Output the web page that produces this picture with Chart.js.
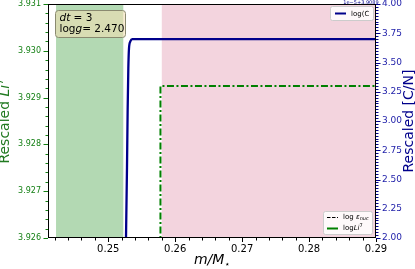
<!DOCTYPE html>
<html>
<head>
<meta charset="utf-8">
<script src="https://cdn.jsdelivr.net/npm/chart.js@4"></script>
<style>
  html, body { margin: 0; padding: 0; background: #fff; }
  #wrap { width: 415px; height: 269px; position: relative; }
</style>
</head>
<body>
<div id="wrap"><canvas id="chart" width="415" height="269"></canvas></div>
<script>
// data
const massCN = [0.2526, 0.2528, 0.2529, 0.2530, 0.2531, 0.2533, 0.2536, 0.2900];
const rescaledCN = [1.80, 2.60, 3.10, 3.45, 3.62, 3.68, 3.70, 3.70];

const massLi = [0.2578, 0.2578, 0.2900];
const rescaledLi = [3.9255, 3.92925, 3.92925];

// shaded zones [start, end]
const greenZone = [0.2422, 0.25225];
const pinkZone = [0.2580, 0.2900];

const xTicks = [0.25, 0.26, 0.27, 0.28, 0.29];
const liTicks = [3.926, 3.927, 3.928, 3.929, 3.930, 3.931];
const cnTicks = [2.0, 2.25, 2.5, 2.75, 3.0, 3.25, 3.5, 3.75, 4.0];

const FONT = "DejaVu Sans";
const NAVY = "#00008b";
const GREEN = "#137f13";
const LGREEN = "#217a21";

// zones, ticks, frame, labels
const decorPlugin = {
  id: "decor",
  beforeDatasetsDraw(chart) {
    const { ctx, chartArea: a, scales } = chart;
    const x = scales.x;
    ctx.save();
    ctx.fillStyle = "#b3d9b3";
    let x0 = x.getPixelForValue(greenZone[0]), x1 = x.getPixelForValue(greenZone[1]);
    ctx.fillRect(x0, a.top, x1 - x0, a.bottom - a.top);
    ctx.fillStyle = "#f3d4de";
    x0 = x.getPixelForValue(pinkZone[0]);
    x1 = x.getPixelForValue(pinkZone[1]);
    ctx.fillRect(x0, a.top, x1 - x0, a.bottom - a.top);
    ctx.restore();
  },
  afterDraw(chart) {
    const { ctx, chartArea: a, scales } = chart;
    ctx.save();
    ctx.lineWidth = 1;
    // x ticks
    ctx.strokeStyle = "#000";
    for (let i = 0; i <= 24; i++) {
      const v = 0.242 + i * 0.002;
      const px = Math.round(scales.x.getPixelForValue(v)) + 0.5;
      const major = (i - 4) % 5 === 0;
      ctx.beginPath();
      ctx.moveTo(px, a.bottom);
      ctx.lineTo(px, a.bottom + (major ? 4 : 2.5));
      ctx.stroke();
    }
    // left ticks
    ctx.strokeStyle = GREEN;
    for (let i = 0; i <= 25; i++) {
      const v = 3.926 + i * 0.0002;
      const py = Math.round(scales.yLi.getPixelForValue(v)) + 0.5;
      const major = i % 5 === 0;
      ctx.beginPath();
      ctx.moveTo(a.left, py);
      ctx.lineTo(a.left - (major ? 4.5 : 2.5), py);
      ctx.stroke();
    }
    // right ticks
    ctx.strokeStyle = NAVY;
    for (let i = 0; i <= 80; i++) {
      const v = 2.0 + i * 0.025;
      const py = Math.round(scales.yCN.getPixelForValue(v)) + 0.5;
      const major = i % 10 === 0;
      ctx.beginPath();
      ctx.moveTo(a.right, py);
      ctx.lineTo(a.right + (major ? 4.5 : 2.5), py);
      ctx.stroke();
    }
    // frame
    ctx.strokeStyle = "#000";
    ctx.strokeRect(a.left + 0.5, a.top + 0.5, a.right - a.left - 1, a.bottom - a.top - 1);

    // text box
    ctx.fillStyle = "rgba(245,222,179,0.55)";
    ctx.strokeStyle = "#8a8a70";
    ctx.beginPath();
    ctx.roundRect(55.5, 10.5, 70, 27, 3);
    ctx.fill();
    ctx.stroke();
    ctx.fillStyle = "#000";
    ctx.textBaseline = "alphabetic";
    ctx.textAlign = "left";
    let tx = 59.5;
    ctx.font = "italic 10.5px " + FONT;
    ctx.fillText("dt", tx, 21);
    tx += ctx.measureText("dt").width;
    ctx.font = "10.5px " + FONT;
    ctx.fillText(" = 3", tx, 21);
    tx = 59.5;
    ctx.fillText("log", tx, 32);
    tx += ctx.measureText("log").width;
    ctx.font = "italic 10.5px " + FONT;
    ctx.fillText("g", tx, 32);
    tx += ctx.measureText("g").width;
    ctx.font = "10.5px " + FONT;
    ctx.fillText("= 2.470", tx, 32);

    // legends
    ctx.fillStyle = "rgba(255,255,255,0.85)";
    ctx.strokeStyle = "#ccc";
    ctx.beginPath();
    ctx.roundRect(330.5, 6.5, 43, 14, 2);
    ctx.fill();
    ctx.stroke();
    ctx.strokeStyle = NAVY;
    ctx.lineWidth = 2;
    ctx.beginPath();
    ctx.moveTo(335, 13.5);
    ctx.lineTo(346, 13.5);
    ctx.stroke();
    ctx.fillStyle = "#000";
    ctx.font = "7px " + FONT;
    ctx.textBaseline = "middle";
    ctx.fillText("log(C", 351, 14);

    ctx.fillStyle = "rgba(255,255,255,0.85)";
    ctx.strokeStyle = "#ccc";
    ctx.lineWidth = 1;
    ctx.beginPath();
    ctx.roundRect(323.5, 211.5, 49, 23, 2);
    ctx.fill();
    ctx.stroke();
    ctx.strokeStyle = "#000";
    ctx.lineWidth = 1.2;
    ctx.setLineDash([3.5, 1.5]);
    ctx.beginPath();
    ctx.moveTo(327, 217.5);
    ctx.lineTo(338, 217.5);
    ctx.stroke();
    ctx.setLineDash([]);
    ctx.strokeStyle = "green";
    ctx.lineWidth = 2;
    ctx.beginPath();
    ctx.moveTo(327, 228.5);
    ctx.lineTo(338, 228.5);
    ctx.stroke();
    ctx.fillStyle = "#000";
    ctx.font = "7px " + FONT;
    let lx = 343;
    ctx.fillText("log ", lx, 217.5);
    lx += ctx.measureText("log ").width;
    ctx.font = "italic 7px " + FONT;
    ctx.fillText("\u03b5", lx, 217.5);
    lx += ctx.measureText("\u03b5").width;
    ctx.font = "italic 5px " + FONT;
    ctx.fillText("nuc", lx, 219);
    lx = 343;
    ctx.font = "7px " + FONT;
    ctx.fillText("log", lx, 228.5);
    lx += ctx.measureText("log").width;
    ctx.font = "italic 7px " + FONT;
    ctx.fillText("Li", lx, 228.5);
    lx += ctx.measureText("Li").width;
    ctx.font = "5px " + FONT;
    ctx.fillText("7", lx, 226);

    // offset text
    ctx.fillStyle = NAVY;
    ctx.font = "5px " + FONT;
    ctx.textAlign = "center";
    ctx.fillText("1e\u22125+3.9089", 361, 2.5);

    // axis titles
    ctx.textBaseline = "alphabetic";
    ctx.save();
    ctx.translate(9, (a.top + a.bottom) / 2);
    ctx.rotate(-Math.PI / 2);
    ctx.fillStyle = LGREEN;
    const p1 = "Rescaled ";
    ctx.font = "14px " + FONT;
    const w1 = ctx.measureText(p1).width;
    ctx.font = "italic 14px " + FONT;
    const w2 = ctx.measureText("Li").width;
    ctx.font = "10px " + FONT;
    const w3 = ctx.measureText("7").width;
    const sx = -(w1 + w2 + w3) / 2;
    ctx.textAlign = "left";
    ctx.font = "14px " + FONT;
    ctx.fillText(p1, sx, 0);
    ctx.font = "italic 14px " + FONT;
    ctx.fillText("Li", sx + w1, 0);
    ctx.font = "10px " + FONT;
    ctx.fillText("7", sx + w1 + w2, -6);
    ctx.restore();

    ctx.save();
    ctx.translate(413, (a.top + a.bottom) / 2);
    ctx.rotate(-Math.PI / 2);
    ctx.fillStyle = NAVY;
    ctx.font = "14px " + FONT;
    ctx.textAlign = "center";
    ctx.textBaseline = "alphabetic";
    ctx.fillText("Rescaled [C/N]", 0, 0);
    ctx.restore();

    ctx.fillStyle = "#000";
    ctx.textAlign = "left";
    ctx.font = "italic 14px " + FONT;
    const t1 = "m/M";
    const tw = ctx.measureText(t1).width;
    ctx.font = "9px " + FONT;
    const sw = ctx.measureText("\u22c6").width;
    const bx0 = (a.left + a.right) / 2 - (tw + sw) / 2;
    ctx.font = "italic 14px " + FONT;
    ctx.fillText(t1, bx0, 264);
    ctx.font = "9px " + FONT;
    ctx.fillText("\u22c6", bx0 + tw, 267);
    ctx.restore();
  }
};

function fitY(width) {
  return (s) => {
    s.width = width;
    s.paddingTop = 0;
    s.paddingBottom = 0;
  };
}

new Chart(document.getElementById("chart"), {
  type: "line",
  data: {
    datasets: [
      {
        label: "log(C/N)",
        data: massCN.map((m, i) => ({ x: m, y: rescaledCN[i] })),
        yAxisID: "yCN",
        borderColor: NAVY,
        borderWidth: 2.3,
        pointRadius: 0,
        cubicInterpolationMode: "monotone",
        tension: 0.4
      },
      {
        label: "logLi7",
        data: massLi.map((m, i) => ({ x: m, y: rescaledLi[i] })),
        yAxisID: "yLi",
        borderColor: "green",
        borderWidth: 2,
        borderDash: [7, 2.5, 2, 2.5],
        pointRadius: 0,
        tension: 0
      }
    ]
  },
  options: {
    responsive: false,
    animation: false,
    devicePixelRatio: 1,
    layout: { padding: { top: 4, left: 0, right: 0, bottom: 0 } },
    plugins: { legend: { display: false }, tooltip: { enabled: false } },
    scales: {
      x: {
        type: "linear",
        min: 0.241,
        max: 0.29,
        afterBuildTicks: (s) => { s.ticks = xTicks.map((v) => ({ value: v })); },
        afterFit: (s) => { s.height = 31; s.paddingLeft = 0; s.paddingRight = 0; },
        grid: { display: false, drawTicks: false },
        border: { display: false },
        ticks: {
          padding: 5,
          color: "#000",
          maxRotation: 0,
          font: { family: FONT, size: 10 },
          callback: (v) => v.toFixed(2)
        }
      },
      yLi: {
        type: "linear",
        position: "left",
        min: 3.926,
        max: 3.931,
        afterBuildTicks: (s) => { s.ticks = liTicks.map((v) => ({ value: v })); },
        afterFit: fitY(48),
        grid: { display: false, drawTicks: false },
        border: { display: false },
        ticks: {
          padding: 7,
          color: GREEN,
          font: { family: FONT, size: 8 },
          callback: (v) => v.toFixed(3)
        }
      },
      yCN: {
        type: "linear",
        position: "right",
        min: 2.0,
        max: 4.0,
        afterBuildTicks: (s) => { s.ticks = cnTicks.map((v) => ({ value: v })); },
        afterFit: fitY(39),
        grid: { display: false, drawTicks: false },
        border: { display: false },
        ticks: {
          padding: 6,
          color: "#2222aa",
          font: { family: FONT, size: 9 },
          callback: (v) => v.toFixed(2)
        }
      }
    }
  },
  plugins: [decorPlugin]
});
</script>
</body>
</html>
